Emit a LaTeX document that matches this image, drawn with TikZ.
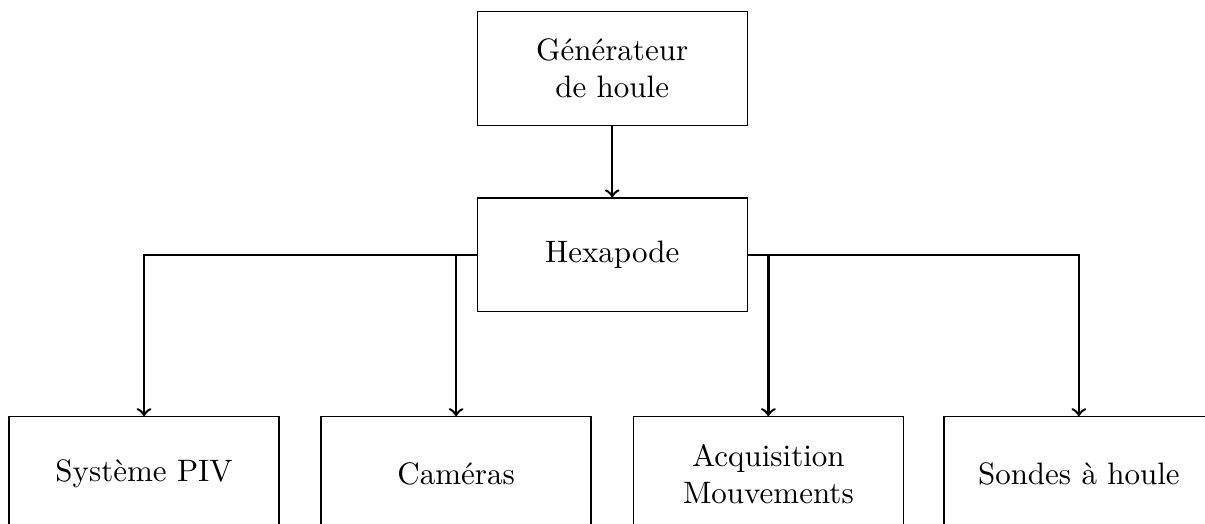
\documentclass[tikz,border=0pt]{standalone}
\usetikzlibrary{arrows,calc}

\tikzset{
  boite/.style={draw,thin,minimum width=3.06cm,minimum height=1.29cm,align=center},
  lien/.style={thick,->}
}

\begin{document}
\begin{tikzpicture}
\useasboundingbox (0,0) rectangle (13.66,-5.94);

\node[boite] (gen) at (6.94,-0.777) {G\'en\'erateur\\de houle};
\node[boite] (hexa) at (6.94,-2.89) {Hexapode};

\node[boite] (piv) at (1.633,-5.37) {Syst\`eme PIV};
\node[boite] (cam) at (5.17,-5.37) {Cam\'eras};
\node[boite] (acq) at (8.71,-5.37) {Acquisition\\Mouvements};
\node[boite] (sond) at (12.23,-5.37) {Sondes \`a houle};

\draw[lien] (gen) -- (hexa);

\draw[lien] (hexa.west) -| (piv);
\draw[lien] (hexa.west) -| (cam);
\draw[lien] (hexa.east) -| (acq);
\draw[lien] (hexa.east) -| (sond);

\end{tikzpicture}
\end{document}
